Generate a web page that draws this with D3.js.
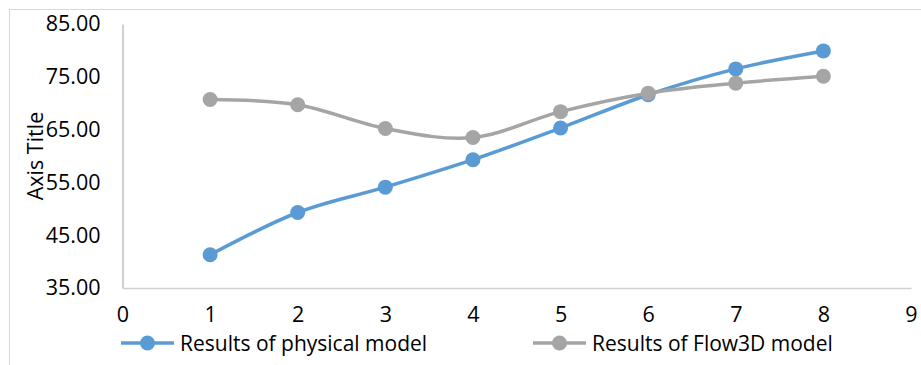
<!DOCTYPE html>
<html>
<head>
<meta charset="utf-8">
<script src="https://cdn.jsdelivr.net/npm/d3@7"></script>
<style>
  html, body { margin: 0; padding: 0; background: #fff; }
  svg { display: block; }
  text { font-family: "Open Sans", "Noto Sans", sans-serif; fill: #000; }
</style>
</head>
<body>
<svg id="chart" width="921" height="365"></svg>
<script>
// Run index
const runs = [1, 2, 3, 4, 5, 6, 7, 8];
// Measured values from the laboratory flume
const physicalModel = [41.3, 49.3, 54.1, 59.3, 65.3, 71.6, 76.5, 79.9];
// Values computed with the Flow3D numerical model
const flow3dModel = [70.7, 69.7, 65.2, 63.5, 68.4, 71.9, 73.8, 75.1];
const xTicks = [0, 1, 2, 3, 4, 5, 6, 7, 8, 9];
const yTicks = [35, 45, 55, 65, 75, 85];
const seriesNames = ["Results of physical model", "Results of Flow3D model"];
const axisTitle = "Axis Title";

const svg = d3.select("#chart");
const W = 921, H = 365;
const fontFamily = "\"Open Sans\", sans-serif";

// chart area frame
svg.append("rect")
  .attr("x", 9.5).attr("y", 9.5)
  .attr("width", W + 10).attr("height", H + 10)
  .attr("fill", "#fff").attr("stroke", "#d9d9d9").attr("stroke-width", 1);

const plot = { left: 122.5, right: 911, top: 24, bottom: 288 };
const x = d3.scaleLinear().domain([0, 9]).range([plot.left, plot.right]);
const y = d3.scaleLinear().domain([35, 85]).range([plot.bottom, plot.top]);

// y axis
const yAxis = svg.append("g")
  .attr("transform", `translate(${plot.left},0)`)
  .call(d3.axisLeft(y).tickValues(yTicks).tickFormat(d3.format(".2f")).tickSize(0).tickSizeOuter(0).tickPadding(22));
yAxis.select(".domain").attr("stroke", "#bfbfbf").attr("stroke-width", 1.5);
yAxis.selectAll("text").style("font-size", "21.5px").style("font-family", fontFamily).attr("fill", "#000");

// x axis
const xAxis = svg.append("g")
  .attr("transform", `translate(0,${plot.bottom})`)
  .call(d3.axisBottom(x).tickValues(xTicks).tickFormat(d3.format("d")).tickSize(0).tickSizeOuter(0).tickPadding(19));
xAxis.select(".domain").attr("stroke", "#d0d0d0").attr("stroke-width", 1.5);
xAxis.selectAll("text").style("font-size", "21.5px").style("font-family", fontFamily).attr("fill", "#000");

// axis title
svg.append("text")
  .attr("transform", `translate(43,${(plot.top + plot.bottom) / 2}) rotate(-90)`)
  .attr("text-anchor", "middle")
  .style("font-size", "21.5px")
  .text(axisTitle);

const line = d3.line()
  .x((d, i) => x(runs[i]))
  .y(d => y(d))
  .curve(d3.curveCatmullRom.alpha(0));

const series = [
  { name: seriesNames[0], values: physicalModel, color: "#5b9bd5" },
  { name: seriesNames[1], values: flow3dModel, color: "#a5a5a5" }
];

series.forEach(s => {
  const g = svg.append("g");
  g.append("path")
    .attr("d", line(s.values))
    .attr("fill", "none")
    .attr("stroke", s.color)
    .attr("stroke-width", 3.5)
    .attr("stroke-linecap", "round");
  g.selectAll("circle")
    .data(s.values)
    .join("circle")
    .attr("cx", (d, i) => x(runs[i]))
    .attr("cy", d => y(d))
    .attr("r", 7.5)
    .attr("fill", s.color);
});

// legend
const legendY = 343;
const legendX = [121, 533];
series.forEach((s, i) => {
  const g = svg.append("g").attr("transform", `translate(${legendX[i]},${legendY})`);
  g.append("line").attr("x1", 0).attr("x2", 53).attr("y1", 0).attr("y2", 0)
    .attr("stroke", s.color).attr("stroke-width", 3.5);
  g.append("circle").attr("cx", 26.5).attr("cy", 0).attr("r", 7.5).attr("fill", s.color);
  g.append("text").attr("x", 59).attr("y", 0).attr("dy", "0.36em")
    .style("font-size", "21px").text(s.name);
});
</script>
</body>
</html>
